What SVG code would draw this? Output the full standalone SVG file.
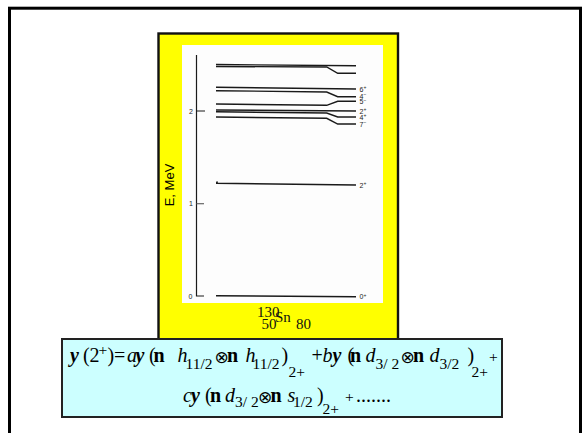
<svg xmlns="http://www.w3.org/2000/svg" width="586" height="433" viewBox="0 0 586 433">
<style>
.lvl{fill:none;stroke:#1a1a1a;stroke-width:1.4}
.ax{fill:none;stroke:#1a1a1a;stroke-width:1.2}
.tl{font-family:"Liberation Sans",Arial,sans-serif;font-size:7px;fill:#222}
.f{font-family:"Liberation Serif","DejaVu Serif",serif;font-size:20px;fill:#000}
.s{font-size:15.5px}
.o{font-family:"DejaVu Sans",sans-serif;font-size:17px}
.bi{font-weight:bold;font-style:italic}
.b{font-weight:bold}
.i{font-style:italic}
</style>
<rect x="9.5" y="8.2" width="571" height="440" fill="#fff" stroke="#000" stroke-width="3"/>
<g id="panel">
<rect x="158.5" y="33.5" width="239.5" height="306" fill="#ffff00" stroke="#111" stroke-width="2.4"/>
<rect x="182" y="45" width="201" height="258" fill="#fdfdfd"/>
<text x="174" y="185" transform="rotate(-90 174 185)" text-anchor="middle" font-family="Liberation Sans,Arial,sans-serif" font-size="13">E, MeV</text>
<path class="ax" d="M196.5,55 L196.5,296 L204,296 M196.5,111 L205,111"/>
<path d="M196.5,203.7 L204,203.7" stroke="#666" stroke-width="1.2"/>
<text class="tl" x="189" y="113.5">2</text>
<text class="tl" x="189" y="206">1</text>
<text class="tl" x="188.5" y="298.5">0</text>
</g>
<g id="levels">
<path class="lvl" d="M216,64.5 L356,65.7"/>
<path class="lvl" d="M216,66.5 L326.7,67 L337.7,73.3 L356,73.3"/>
<path class="lvl" d="M216,87.3 L356,89"/>
<path class="lvl" d="M216,90.7 L326.7,92 L337.7,96.7 L356,96.7"/>
<path class="lvl" d="M216,104 L326.7,105.3 L337.7,101.3 L356,101.3"/>
<path class="lvl" d="M216,110 L356,111"/>
<path class="lvl" d="M216,111.8 L326.7,113 L337.7,117 L356,117"/>
<path class="lvl" d="M216,117 L326.7,118.3 L337.7,124 L356,124"/>
<path class="lvl" d="M216,183.3 L356,185 M216.5,183 L217.5,181.5"/>
<path class="lvl" d="M216,295.7 L356,296.7"/>
<text class="tl" x="359.5" y="91.5">6<tspan dy="-2.5" font-size="5">+</tspan></text>
<text class="tl" x="359.5" y="98.5">4<tspan dy="-2.5" font-size="5">−</tspan></text>
<text class="tl" x="359.5" y="104">5<tspan dy="-2.5" font-size="5">−</tspan></text>
<text class="tl" x="359.5" y="113.5">2<tspan dy="-2.5" font-size="5">+</tspan></text>
<text class="tl" x="359.5" y="119.5">4<tspan dy="-2.5" font-size="5">+</tspan></text>
<text class="tl" x="359.5" y="126.5">7<tspan dy="-2.5" font-size="5">−</tspan></text>
<text class="tl" x="359.5" y="187.5">2<tspan dy="-2.5" font-size="5">+</tspan></text>
<text class="tl" x="359.5" y="299">0<tspan dy="-2.5" font-size="5">+</tspan></text>
</g>
<g id="nucleus" font-family="Liberation Serif,serif" font-size="15" fill="#111">
<text x="257" y="317">130</text>
<text x="275" y="322">Sn</text>
<text x="261.5" y="328.5">50</text>
<text x="296" y="328.5">80</text>
</g>
<g id="formula">
<rect x="62" y="339" width="440" height="78" fill="#ccffff" stroke="#222" stroke-width="2"/>
<text class="f">
<tspan class="bi" x="70" y="362">y</tspan><tspan x="83" y="362">(</tspan><tspan x="89.5" y="362">2</tspan><tspan class="s" x="98.5" y="355">+</tspan><tspan x="107.5" y="362">)</tspan><tspan x="114" y="362">=</tspan><tspan class="i" x="127" y="362">a</tspan><tspan class="bi" x="135.5" y="362">y</tspan><tspan x="149" y="362">(</tspan><tspan class="b" x="153.5" y="362">n</tspan><tspan class="i" x="177.5" y="362">h</tspan><tspan class="s" x="185.5" y="369">11/2</tspan><tspan class="o" x="214.5" y="363">⊗</tspan><tspan class="b" x="227" y="362">n</tspan><tspan class="i" x="245.5" y="362">h</tspan><tspan class="s" x="252.5" y="369">11/2</tspan><tspan x="281.5" y="362">)</tspan><tspan class="s" x="288.5" y="377">2+</tspan><tspan x="311.5" y="362">+</tspan><tspan class="i" x="322.5" y="362">b</tspan><tspan class="bi" x="332.5" y="362">y</tspan><tspan x="347.5" y="362">(</tspan><tspan class="b" x="350" y="362">n</tspan><tspan class="i" x="365.5" y="362">d</tspan><tspan class="s" x="375.5" y="369">3/ 2</tspan><tspan class="o" x="400.5" y="363">⊗</tspan><tspan class="b" x="413" y="362">n</tspan><tspan class="i" x="429.5" y="362">d</tspan><tspan class="s" x="439.5" y="369">3/2</tspan><tspan x="467.5" y="362">)</tspan><tspan class="s" x="471.5" y="377">2+</tspan><tspan class="s" x="489" y="362">+</tspan>
</text>
<text class="f">
<tspan class="i" x="183" y="402">c</tspan><tspan class="bi" x="191" y="402">y</tspan><tspan x="205" y="402">(</tspan><tspan class="b" x="210" y="402">n</tspan><tspan class="i" x="225" y="402">d</tspan><tspan class="s" x="235" y="407">3/ 2</tspan><tspan class="o" x="258" y="403">⊗</tspan><tspan class="b" x="270.5" y="402">n</tspan><tspan class="i" x="287.5" y="402">s</tspan><tspan class="s" x="293" y="407">1/2</tspan><tspan x="317" y="402">)</tspan><tspan class="s" x="322.5" y="414">2+</tspan><tspan class="s" x="345" y="402">+</tspan><tspan x="356" y="402">.......</tspan>
</text>
</g>
</svg>
